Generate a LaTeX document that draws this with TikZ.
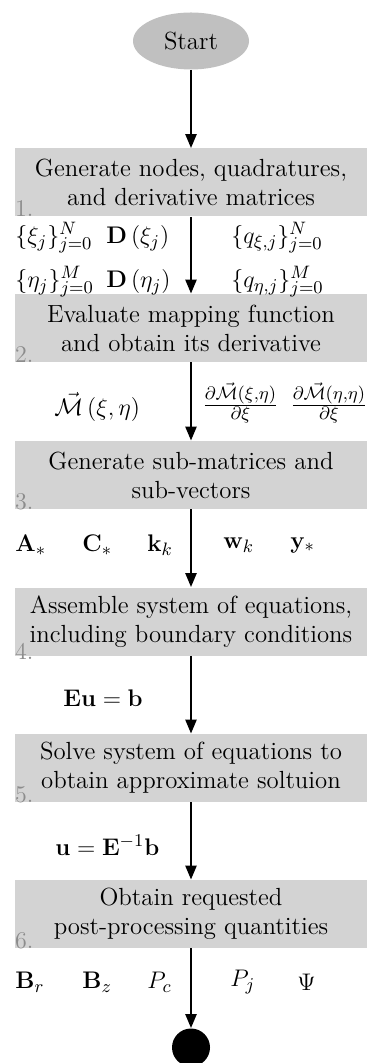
\documentclass[tikz,border=0pt]{standalone}
\usetikzlibrary{arrows.meta,shapes.geometric}
\definecolor{boxgray}{RGB}{211,211,211}
\definecolor{startgray}{RGB}{192,192,192}
\definecolor{numgray}{RGB}{140,140,140}
\begin{document}
\begin{tikzpicture}[x=0.5pt,y=-0.5pt,
  stepbox/.style={fill=boxgray, minimum width=176pt, minimum height=34pt, align=center, inner sep=0pt, font=\fontsize{12.4}{14.6}\selectfont},
  startnode/.style={ellipse, fill=startgray, minimum width=58pt, minimum height=28.5pt, inner sep=0pt, font=\fontsize{12.4}{14.6}\selectfont},
  endnode/.style={circle, fill=black, minimum size=19pt, inner sep=0pt},
  numlabel/.style={text=numgray, inner sep=0pt, font=\fontsize{12}{14}\selectfont},
  lab/.style={inner sep=0pt, anchor=west, font=\fontsize{13.2}{16}\selectfont},
  conn/.style={-{Triangle[length=7pt,width=5.5pt]}, line width=1.2pt}
]
\useasboundingbox (0,0) rectangle (366,1063);

\node[startnode] (start) at (191,41) {Start};
\node[stepbox] (b1) at (191,182.5) {Generate nodes, quadratures,\\and derivative matrices};
\node[stepbox] (b2) at (191,328) {Evaluate mapping function\\and obtain its derivative};
\node[stepbox] (b3) at (191,475) {Generate sub-matrices and\\sub-vectors};
\node[stepbox] (b4) at (191,621.5) {Assemble system of equations,\\including boundary conditions};
\node[stepbox] (b5) at (191,768) {Solve system of equations to\\obtain approximate soltuion};
\node[stepbox] (b6) at (191,914) {Obtain requested\\post-processing quantities};
\node[endnode] (end) at (191,1047.5) {};

\node[numlabel, anchor=base west] (n1) at (b1.south west) {1.};
\node[numlabel, anchor=base west] (n2) at (b2.south west) {2.};
\node[numlabel, anchor=base west] (n3) at (b3.south west) {3.};
\node[numlabel, anchor=base west] (n4) at ([yshift=-2pt]b4.south west) {4.};
\node[numlabel, anchor=base west] (n5) at (b5.south west) {5.};
\node[numlabel, anchor=base west] (n6) at (b6.south west) {6.};

\draw[conn] (start) -- (b1);
\draw[conn] (b1) -- (b2);
\draw[conn] (b2) -- (b3);
\draw[conn] (b3) -- (b4);
\draw[conn] (b4) -- (b5);
\draw[conn] (b5) -- (b6);
\draw[conn] (b6) -- (end);

\node[lab] (xi) at (15,238) {$\{\xi_j\}_{j=0}^N$};
\node[lab] (Dxi) at (106,238) {$\mathbf{D}\left(\xi_j\right)$};
\node[lab] (qxi) at (231,238) {$\{q_{\xi,j}\}_{j=0}^N$};
\node[lab] (eta) at (15,282) {$\{\eta_j\}_{j=0}^M$};
\node[lab] (Deta) at (106,282) {$\mathbf{D}\left(\eta_j\right)$};
\node[lab] (qeta) at (231,282) {$\{q_{\eta,j}\}_{j=0}^M$};

\node[lab] (M) at (54,407) {$\vec{\mathcal{M}}\left(\xi,\eta\right)$};
\node[lab] (dM1) at (202,403) {$\frac{\partial\vec{\mathcal{M}}(\xi,\eta)}{\partial\xi}$};
\node[lab] (dM2) at (290,403) {$\frac{\partial\vec{\mathcal{M}}(\eta,\eta)}{\partial\xi}$};

\node[lab] (A) at (15,545) {$\mathbf{A}_*$};
\node[lab] (C) at (82,545) {$\mathbf{C}_*$};
\node[lab] (k) at (147,545) {$\mathbf{k}_k$};
\node[lab] (w) at (223,545) {$\mathbf{w}_k$};
\node[lab] (y) at (290,545) {$\mathbf{y}_*$};

\node[lab] (Eu) at (63,698) {$\mathbf{Eu}=\mathbf{b}$};
\node[lab] (uE) at (55,845) {$\mathbf{u}=\mathbf{E}^{-1}\mathbf{b}$};

\node[lab] (Br) at (15,982) {$\mathbf{B}_r$};
\node[lab] (Bz) at (82,982) {$\mathbf{B}_z$};
\node[lab] (Pc) at (147,982) {$P_c$};
\node[lab] (Pj) at (230,982) {$P_j$};
\node[lab] (Psi) at (297,982) {$\Psi$};
\end{tikzpicture}
\end{document}
